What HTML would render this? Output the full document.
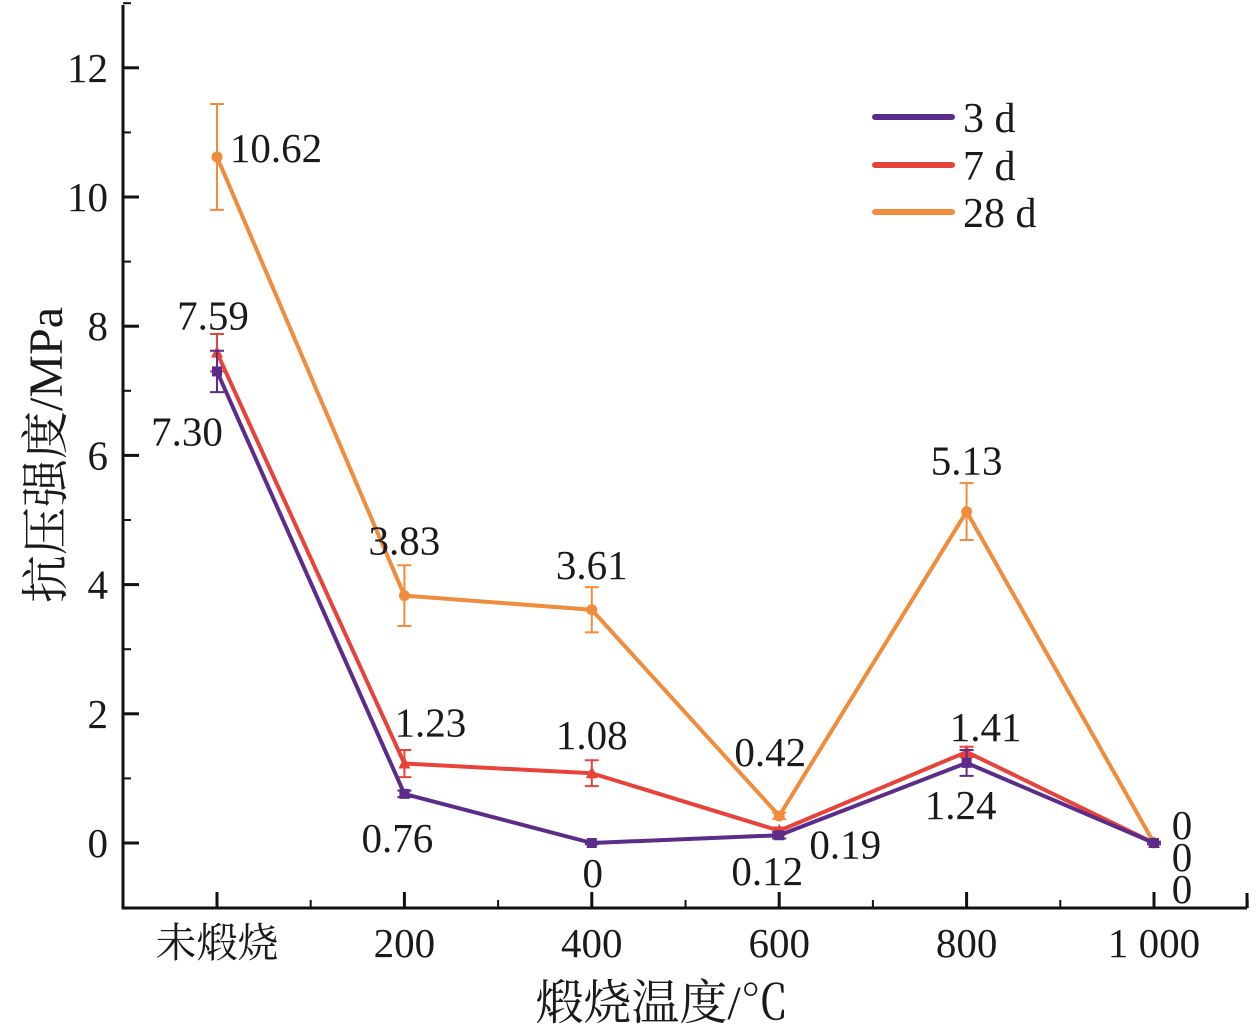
<!DOCTYPE html>
<html><head><meta charset="utf-8"><style>
html,body{margin:0;padding:0;background:#fff}
svg{display:block}
text{font-family:"Liberation Serif","Noto Serif CJK SC","Noto Sans CJK SC",serif;fill:#1a1a1a}
</style></head><body>
<svg id="chart" width="1257" height="1031" viewBox="0 0 1257 1031" xmlns="http://www.w3.org/2000/svg"></svg>
<script>
const categories = ["未煅烧","200","400","600","800","1 000"];
const yTicks = [0,2,4,6,8,10,12];
const s3 = [7.30,0.76,0,0.12,1.24,0];
const s7 = [7.59,1.23,1.08,0.19,1.41,0];
const s28 = [10.62,3.83,3.61,0.42,5.13,0];
const e3 = [0.32,0.05,0.02,0.05,0.2,0.02];
const e7 = [0.29,0.21,0.2,0.05,0.08,0.02];
const e28 = [0.82,0.47,0.35,0.05,0.44,0.02];
const l3 = ["7.30","0.76","0","0.12","1.24","0"];
const l7 = ["7.59","1.23","1.08","0.19","1.41","0"];
const l28 = ["10.62","3.83","3.61","0.42","5.13","0"];
const off3 = [[-30,60],[-7,44],[1,30],[-12,36],[-6,42],[28,46]];
const off7 = [[-4,-37],[26,-41],[0,-38],[66,14],[19,-25],[28,14]];
const off28 = [[59,-9],[0,-55],[0,-45],[-9,-64],[0,-51],[28,-18]];

const NS="http://www.w3.org/2000/svg";
const svg=document.getElementById('chart');
const X=i=>217+187.4*i;
const Y=v=>843-64.6*v;
function el(tag,attrs,parent){const e=document.createElementNS(NS,tag);for(const k in attrs)e.setAttribute(k,attrs[k]);(parent||svg).appendChild(e);return e;}

const ax=el('path',{d:'M123,5 L123,908 L1247,908',fill:'none',stroke:'#111','stroke-width':3});


el('line',{x1:1247,y1:908,x2:1247,y2:893,stroke:'#111','stroke-width':3});
yTicks.forEach(t=>{
  el('line',{x1:123,y1:Y(t),x2:139,y2:Y(t),stroke:'#111','stroke-width':3});
  el('line',{x1:123,y1:Y(t+1),x2:131,y2:Y(t+1),stroke:'#111','stroke-width':2});
  const tx=el('text',{x:108,y:Y(t)+14,'text-anchor':'end','font-size':41});
  tx.textContent=t;
  
  
});
categories.forEach((c,i)=>{
  el('line',{x1:X(i),y1:908,x2:X(i),y2:892,stroke:'#111','stroke-width':3});
  el('line',{x1:X(i)+93.7,y1:908,x2:X(i)+93.7,y2:900,stroke:'#111','stroke-width':2});
  const tx=el('text',{x:X(i),y:957,'text-anchor':'middle','font-size':41});
  tx.textContent=c;
  
  
});
const yt=el('text',{x:0,y:0,'text-anchor':'middle','font-size':48,transform:'translate(62,455) rotate(-90)'});
yt.textContent='抗压强度/MPa';


const xt=el('text',{x:662,y:1019,'text-anchor':'middle','font-size':48});
xt.textContent='煅烧温度/℃';



function series(vals,errs,labels,offs,color,marker,name){
  const g=el('g',{});
  
  
  vals.forEach((v,i)=>{
    const x=X(i),e=errs[i];
    el('path',{d:`M${x},${Y(v+e)}V${Y(v-e)}M${x-7},${Y(v+e)}H${x+7}M${x-7},${Y(v-e)}H${x+7}`,stroke:color,'stroke-width':2,fill:'none'},g);
  });
  const ln=el('polyline',{points:vals.map((v,i)=>X(i)+','+Y(v)).join(' '),fill:'none',stroke:color,'stroke-width':4,'stroke-linejoin':'round'},g);
  
  
  vals.forEach((v,i)=>{
    const x=X(i),y=Y(v);let m;
    if(marker==='square') m=el('rect',{x:x-5,y:y-5,width:10,height:10,fill:color},g);
    else if(marker==='tri') m=el('polygon',{points:`${x},${y-7} ${x-6},${y+5} ${x+6},${y+5}`,fill:color},g);
    else m=el('circle',{cx:x,cy:y,r:5.5,fill:color},g);
    
    
    const t=el('text',{x:x+offs[i][0],y:y+offs[i][1]+14,'text-anchor':'middle','font-size':41},g);
    t.textContent=labels[i];
    
    
  });
}
series(s28,e28,l28,off28,'#f08c3c','circle','28d');
series(s7,e7,l7,off7,'#e8433a','tri','7d');
series(s3,e3,l3,off3,'#5b2c8a','square','3d');

[['3 d','#5b2c8a',117],['7 d','#e8433a',165],['28 d','#f08c3c',212]].forEach(([n,c,y])=>{
  const g=el('g',{});
  
  
  el('line',{x1:875,y1:y,x2:952,y2:y,stroke:c,'stroke-width':6,'stroke-linecap':'round'},g);
  const t=el('text',{x:963,y:y+15,'font-size':42},g);
  t.textContent=n;
});
</script>
</body></html>
